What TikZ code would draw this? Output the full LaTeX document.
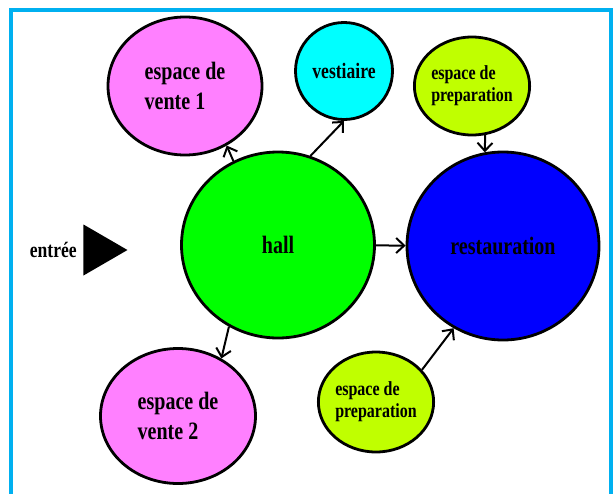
\documentclass[tikz,border=0pt]{standalone}
\usepackage{fontspec}
\usepackage{tikz}
\usetikzlibrary{arrows.meta,positioning,shapes.geometric}
\newfontfamily\planfont[FakeStretch=0.8]{Liberation Serif}
\definecolor{frameCyan}{RGB}{0,176,240}
\definecolor{venteRose}{RGB}{255,128,255}
\definecolor{vestCyan}{RGB}{0,255,255}
\definecolor{prepLime}{RGB}{192,255,0}
\definecolor{hallGreen}{RGB}{0,255,0}
\definecolor{restoBlue}{RGB}{0,0,255}

\begin{document}
\begin{tikzpicture}[x=1pt,y=-1pt,
    room/.style={draw=black,line width=2.8pt,ellipse,inner sep=0pt,align=left,
      font=\planfont\bfseries\fontsize{25}{30}\selectfont},
    small/.style={font=\planfont\bfseries\fontsize{20}{22}\selectfont},
    arrow/.style={-{Straight Barb[length=8pt,width=15pt,line width=2pt]},line width=2pt,draw=black}
  ]
    \useasboundingbox (0,0) rectangle (615,493);
    \draw[frameCyan,line width=4pt] (11,520) -- (11,10) -- (611,10) -- (611,520);

    \node[room,fill=venteRose,minimum width=154pt,minimum height=138pt] (vente1) at (185,86) {espace de\\vente 1};
    \node[room,fill=vestCyan,minimum width=97pt,minimum height=97pt,font=\planfont\bfseries\fontsize{22}{24}\selectfont] (vest) at (344,71) {vestiaire};
    \node[room,small,fill=prepLime,minimum width=98pt,minimum height=98pt] (prepA) at (472,86) {espace de\\preparation};
    \node[room,fill=hallGreen,minimum width=193pt,minimum height=186pt] (hall) at (278,245) {hall};
    \node[room,fill=restoBlue,minimum width=192pt,minimum height=188pt] (resto) at (503,246) {restauration};
    \node[room,fill=venteRose,minimum width=155pt,minimum height=135pt] (vente2) at (178,416) {espace de\\vente 2};
    \node[room,small,fill=prepLime,minimum width=98pt,minimum height=100pt] (prepB) at (376,402) {espace de\\preparation};

    \node[isosceles triangle,isosceles triangle stretches,fill=black,inner sep=0pt,
      minimum width=51pt,minimum height=44pt,anchor=apex] (door) at (128,250) {};
    \node[left=3pt of door,font=\planfont\bfseries\fontsize{22}{24}\selectfont] (entree) {entrée};

    \draw[arrow] (hall.118) -- (vente1.305);
    \draw[arrow] (hall.70) -- (vest.south);
    \draw[arrow] (hall) -- (resto);
    \draw[arrow] (prepA.285) -- (resto.101);
    \draw[arrow] (hall.239) -- (vente2.53);
    \draw[arrow] (prepB.35) -- (resto.239);
  \end{tikzpicture}
\end{document}
